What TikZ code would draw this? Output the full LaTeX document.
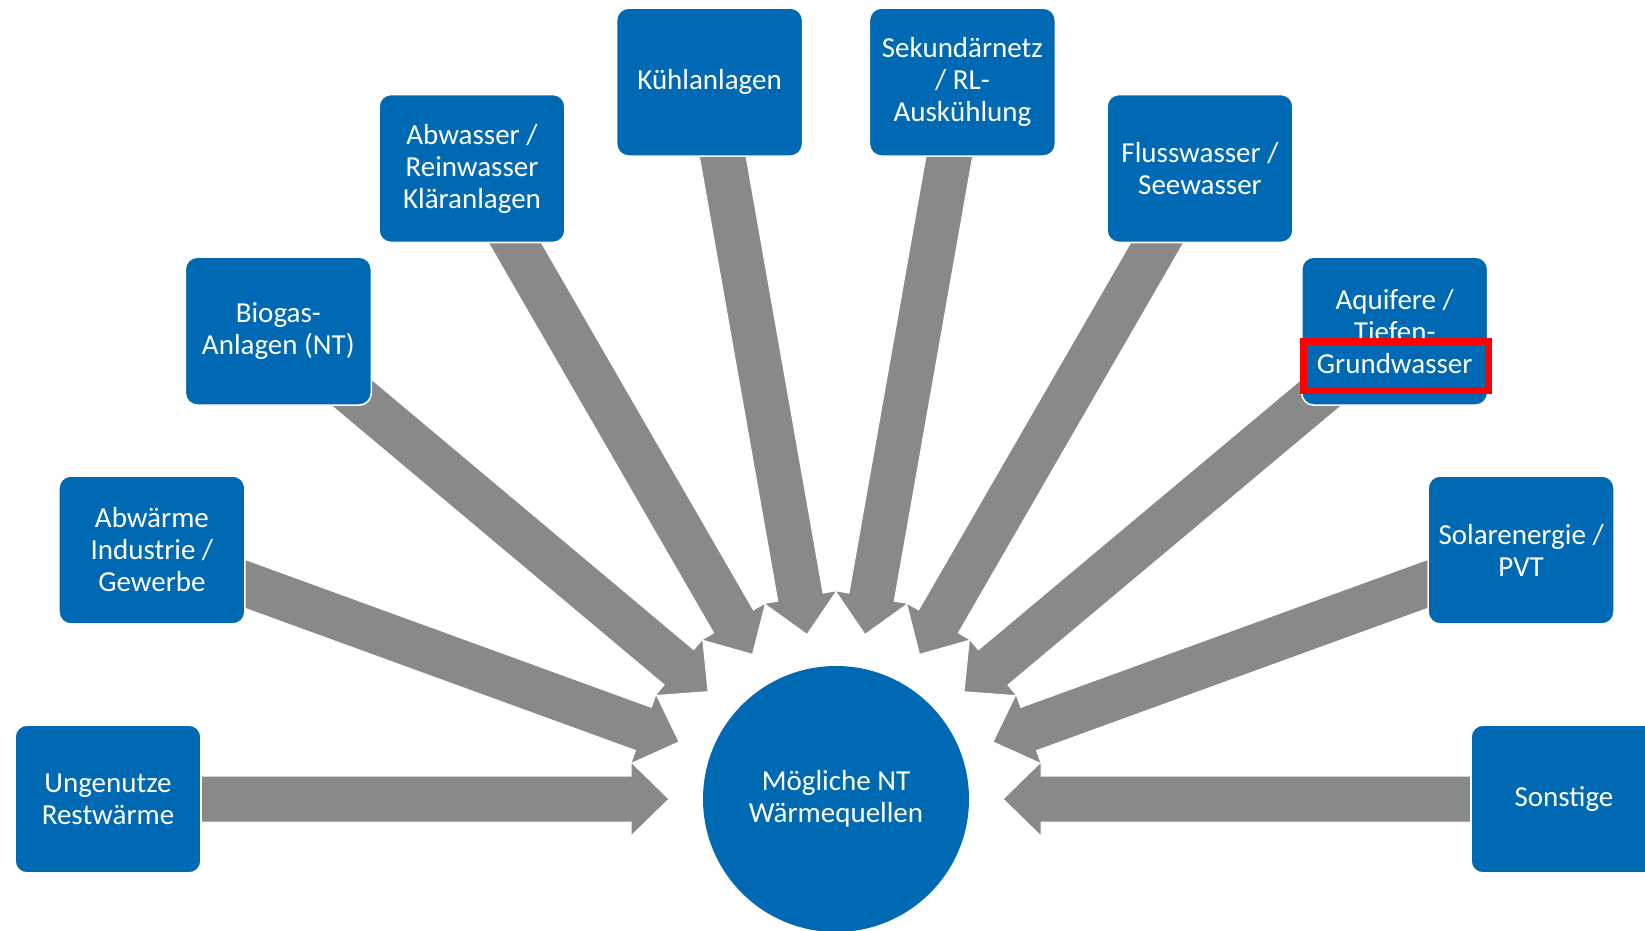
\documentclass[tikz,border=0pt]{standalone}
\usepackage{fontspec}
\setmainfont{Carlito}
\usetikzlibrary{calc}
\definecolor{nblue}{RGB}{0,105,180}
\definecolor{ngray}{RGB}{137,137,137}
\pgfdeclarelayer{bg}
\pgfsetlayers{bg,main}
\tikzset{
  srcbox/.style={rectangle, rounded corners=6pt, fill=nblue, draw=white, line width=0.8pt,
    minimum width=93pt, minimum height=74pt, inner sep=0pt, text=white, align=center,
    font=\fontsize{14.5pt}{16pt}\selectfont},
  hub/.style={circle, fill=nblue, minimum size=133pt, inner sep=0pt, text=white, align=center,
    font=\fontsize{14.5pt}{16pt}\selectfont},
  blockarrow/.style={fill=ngray, draw=white, line width=0.5pt, line join=miter},
  highlight/.style={draw=red, line width=3.5pt}
}
\begin{document}
\begin{tikzpicture}[x=0.5pt, y=-0.5pt]
\useasboundingbox (0,0) rectangle (1645,931);
\clip (0,0) rectangle (1645,931);
\node[hub] (c) at (836,799) {Mögliche NT\\Wärmequellen};
\node[srcbox] (b1)  at (108,799)      {Ungenutze\\Restwärme};
\node[srcbox] (b2)  at (151.9,550)    {Abwärme\\Industrie /\\Gewerbe};
\node[srcbox] (b3)  at (278.3,331.1)  {Biogas-\\Anlagen (NT)};
\node[srcbox] (b4)  at (472,168.5)    {Abwasser /\\Reinwasser\\Kläranlagen};
\node[srcbox] (b5)  at (709.6,82.1)   {Kühlanlagen};
\node[srcbox] (b6)  at (962.4,82.1)   {Sekundärnetz\\/ RL-\\Auskühlung};
\node[srcbox] (b7)  at (1200,168.5)   {Flusswasser /\\Seewasser};
\node[srcbox] (b8)  at (1394.7,331.1) {Aquifere /\\Tiefen-\\Grundwasser};
\node[srcbox] (b9)  at (1521.1,550)   {Solarenergie /\\PVT};
\node[srcbox] (b10) at (1564,799)     {Sonstige};
\begin{pgfonlayer}{bg}
\foreach \i in {1,...,10}{
  \filldraw[blockarrow]
    ($(b\i)!11.5pt!-90:(c)$)
    -- ($(c)!102.5pt!(b\i)!11.5pt!90:(b\i)$)
    -- ($(c)!102.5pt!(b\i)!18.5pt!90:(b\i)$)
    -- ($(c)!83.5pt!(b\i)$)
    -- ($(c)!102.5pt!(b\i)!18.5pt!-90:(b\i)$)
    -- ($(c)!102.5pt!(b\i)!11.5pt!-90:(b\i)$)
    -- ($(b\i)!11.5pt!90:(c)$)
    -- cycle;
}
\end{pgfonlayer}
\draw[highlight] (1303.5,341) rectangle (1488.5,390.5);
\end{tikzpicture}
\end{document}
